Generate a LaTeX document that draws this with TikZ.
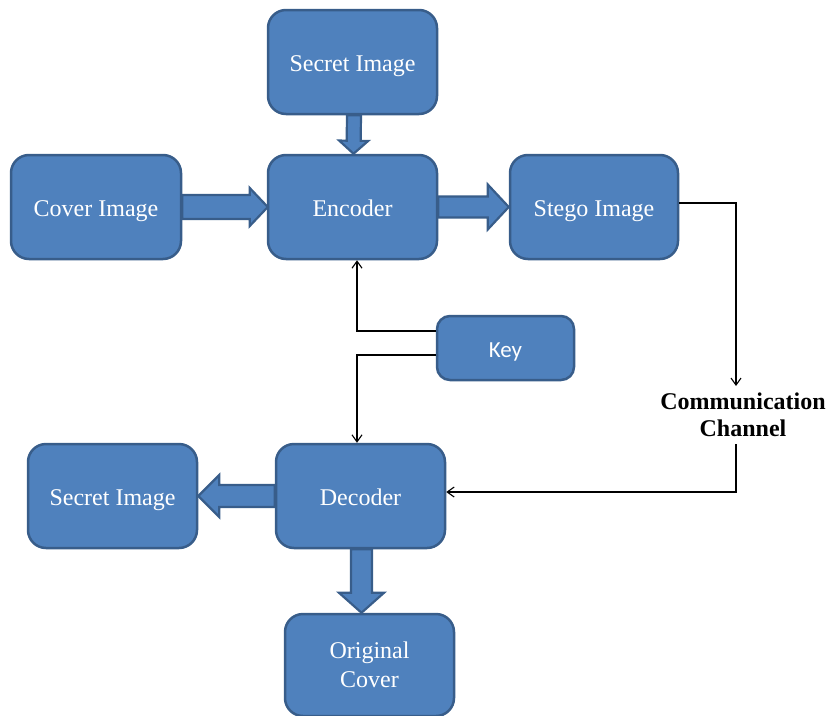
\documentclass[tikz,border=0pt]{standalone}
\usepackage{fontspec}
\setmainfont{Liberation Serif}
\newfontfamily\keyfont{Carlito}
\usetikzlibrary{calc,arrows.meta}
\definecolor{boxfill}{HTML}{4F81BD}
\definecolor{boxline}{HTML}{385D8A}
\tikzset{
  blkbase/.style={draw=boxline, fill=boxfill, line width=2.5pt, rounded corners=18pt,
    minimum width=169pt, minimum height=104pt, inner sep=0pt, text=white,
    align=center, text depth=0pt, font=\fontsize{24}{29}\selectfont},
  blk/.style={blkbase, text height=19pt},
  keybox/.style={blk, minimum width=137pt, minimum height=64pt, rounded corners=13pt,
    text height=18pt, font=\keyfont\fontsize{23}{28}\selectfont},
  chantext/.style={align=center, inner sep=0pt, font=\bfseries\fontsize{24}{27.5}\selectfont},
  blockarrow/.style={draw=boxline, fill=boxfill, line width=2.2pt, line join=miter},
  thin/.style={draw=black, line width=1.1pt, -{Straight Barb[length=7pt,width=10pt]}}
}
\newcommand\blockarr[5]{% from, to, shaft half, head half, head length
  \path (#2) coordinate (ba-t) (#1) coordinate (ba-s);
  \path ($(ba-t)!#5!(ba-s)$) coordinate (ba-h);
  \draw[blockarrow] ($(ba-s)!#3!90:(ba-t)$) -- ($(ba-h)!#3!90:(ba-t)$)
    -- ($(ba-h)!#4!90:(ba-t)$) -- (ba-t) -- ($(ba-h)!#4!-90:(ba-t)$)
    -- ($(ba-h)!#3!-90:(ba-t)$) -- ($(ba-s)!#3!-90:(ba-t)$) -- cycle;
}
\begin{document}
\begin{tikzpicture}[x=1pt,y=-1pt]
\useasboundingbox (0,0) rectangle (827,715);
\node[blk] (sec1) at (352.5,62) {Secret Image};
\node[blk, minimum width=170pt] (cover) at (96,207) {Cover Image};
\node[blk] (enc) at (352.5,207) {Encoder};
\node[blk, minimum width=168pt] (stego) at (594,207) {Stego Image};
\node[keybox] (key) at (505.5,348) {Key};
\node[chantext] (chan) at (743,415) {Communication\\Channel};
\node[blk] (sec2) at (112.5,496) {Secret Image};
\node[blk] (dec) at (360.5,496) {Decoder};
\node[blkbase, minimum height=102pt] (orig) at (369.5,665) {Original\\Cover};
\coordinate (chin) at (736,386);
\coordinate (chout) at (736,444);
% block arrows
\blockarr{[xshift=1.5pt]sec1.south}{[xshift=1pt]enc.north}{7pt}{14.5pt}{13pt}
\blockarr{cover.east}{[xshift=1pt]enc.west}{12pt}{19pt}{18pt}
\blockarr{enc.east}{stego.west}{10.5pt}{22.5pt}{21pt}
\blockarr{dec.west}{sec2.east}{11pt}{21pt}{21pt}
\blockarr{[xshift=1pt]dec.south}{[xshift=1pt]dec.south |- orig.north}{10.5pt}{22.5pt}{20pt}
% thin connectors
\draw[thin] ([yshift=4pt]stego.east) -| (chin);
\draw[thin] (chout) |- ([yshift=4pt]dec.east);
\draw[thin] ([yshift=17pt]key.west) -| ([xshift=4.5pt]enc.south);
\draw[thin] ([yshift=-7pt]key.west) -| ([xshift=-3.5pt]dec.north);
\end{tikzpicture}
\end{document}
